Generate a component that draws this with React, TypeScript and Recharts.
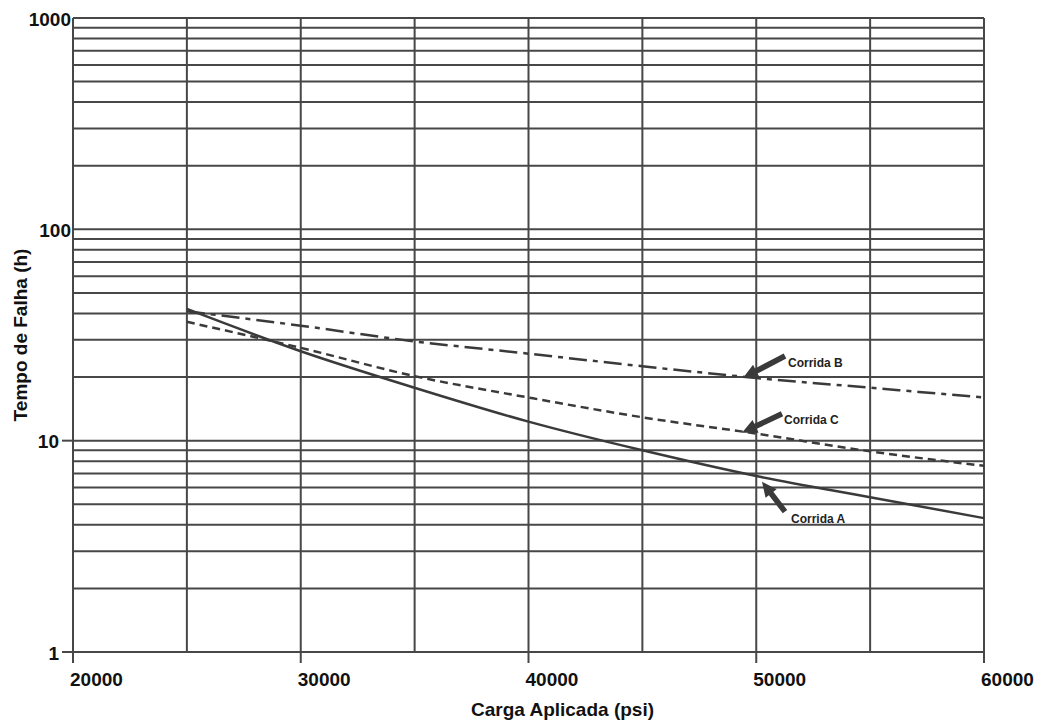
import React from "react";
import {
  CartesianGrid,
  Line,
  LineChart,
  ReferenceDot,
  XAxis,
  YAxis,
} from "recharts";

// valores (psi -> horas)
const cargas = [25000, 30000, 35000, 40000, 45000, 50000, 55000, 60000];
const corridaA = [42, 26.5, 17.8, 12.3, 9.0, 6.8, 5.4, 4.3];
const corridaB = [41, 35, 29.5, 25.8, 22.5, 19.8, 17.8, 16];
const corridaC = [36.5, 27.5, 20.2, 16.0, 12.9, 10.8, 8.9, 7.6];

const xTicks = [20000, 25000, 30000, 35000, 40000, 45000, 50000, 55000, 60000];
const xLabels = [20000, 30000, 40000, 50000, 60000];
const yTicks = [
  1, 2, 3, 4, 5, 6, 7, 8, 9, 10, 20, 30, 40, 50, 60, 70, 80, 90, 100, 200, 300,
  400, 500, 600, 700, 800, 900, 1000,
];
const yLabels = [1, 10, 100, 1000];

const notaNomes = ["Corrida B", "Corrida C", "Corrida A"];
const notaX = [49418, 49374, 50252];
const notaY = [19.8, 10.9, 6.4];

const data = cargas.map((carga, i) => ({
  carga,
  a: corridaA[i],
  b: corridaB[i],
  c: corridaC[i],
}));

const INK = "#3a3a3a";
const GRID = "#474747";
const FONT = "'Liberation Sans', Arial, sans-serif";

// deslocamento da cauda da seta e do texto, em pixels, por nota
const notaLayout: Record<string, { dx: number; dy: number; tx: number; ty: number }> = {
  "Corrida B": { dx: 42, dy: -22, tx: 45, ty: -15 },
  "Corrida C": { dx: 40, dy: -19, tx: 42, ty: -13 },
  "Corrida A": { dx: 23, dy: 30, tx: 29, ty: 37 },
};

const Seta = (props: any) => {
  const { cx, cy, nome } = props;
  const lay = notaLayout[nome];
  const px = cx + lay.dx;
  const py = cy + lay.dy;
  const len = Math.hypot(cx - px, cy - py);
  const ux = (cx - px) / len;
  const uy = (cy - py) / len;
  const nx = -uy;
  const ny = ux;
  const hl = 15;
  const hw = 7;
  const sw = 2.8;
  const bx = cx - ux * hl;
  const by = cy - uy * hl;
  const pts = [
    [px + nx * sw, py + ny * sw],
    [bx + nx * sw, by + ny * sw],
    [bx + nx * hw, by + ny * hw],
    [cx, cy],
    [bx - nx * hw, by - ny * hw],
    [bx - nx * sw, by - ny * sw],
    [px - nx * sw, py - ny * sw],
  ]
    .map((p) => p.join(","))
    .join(" ");
  return (
    <g>
      <polygon points={pts} fill={INK} />
      <text
        x={cx + lay.tx}
        y={cy + lay.ty}
        fontFamily={FONT}
        fontWeight="bold"
        fontSize={12}
        fill="#222"
        dominantBaseline="central"
      >
        {nome}
      </text>
    </g>
  );
};

const XTick = (props: any) => {
  const { x, y, payload } = props;
  if (!xLabels.includes(payload.value)) return null;
  return (
    <g>
      <line x1={x} y1={y} x2={x} y2={y + 11} stroke={GRID} strokeWidth={2} />
      <text
        x={x - 3}
        y={y + 27}
        fontFamily={FONT}
        fontWeight="bold"
        fontSize={19}
        fill="#111"
        dominantBaseline="central"
      >
        {payload.value}
      </text>
    </g>
  );
};

const YTick = (props: any) => {
  const { x, y, payload } = props;
  if (!yLabels.includes(payload.value)) return null;
  const comTraco = payload.value < 100;
  return (
    <g>
      {comTraco && (
        <line x1={x - 11} y1={y} x2={x} y2={y} stroke={GRID} strokeWidth={2} />
      )}
      <text
        x={comTraco ? x - 14 : x - 2}
        y={y + 1}
        textAnchor="end"
        fontFamily={FONT}
        fontWeight="bold"
        fontSize={19}
        fill="#111"
        dominantBaseline="central"
      >
        {payload.value}
      </text>
    </g>
  );
};

export default function App() {
  return (
    <div style={{ width: 1039, height: 724, background: "#fff", position: "relative" }}>
      <style>{"body{margin:0}"}</style>
      <LineChart
        width={1039}
        height={724}
        data={data}
        margin={{ top: 18, right: 55, left: 0, bottom: 0 }}
      >
        <CartesianGrid stroke={GRID} strokeWidth={2} />
        <XAxis
          dataKey="carga"
          type="number"
          domain={[20000, 60000]}
          ticks={xTicks}
          interval={0}
          height={72}
          tickSize={0}
          tickMargin={0}
          tickLine={false}
          axisLine={{ stroke: GRID, strokeWidth: 2 }}
          tick={<XTick />}
          label={{
            value: "Carga Aplicada (psi)",
            position: "insideBottom",
            offset: 8,
            dx: 34,
            style: { fontFamily: FONT, fontWeight: "bold", fontSize: 19, fill: "#111" },
          }}
        />
        <YAxis
          scale="log"
          type="number"
          domain={[1, 1000]}
          ticks={yTicks}
          interval={0}
          allowDataOverflow
          width={73}
          tickSize={0}
          tickMargin={0}
          tickLine={false}
          axisLine={{ stroke: GRID, strokeWidth: 2 }}
          tick={<YTick />}
          label={{
            value: "Tempo de Falha (h)",
            angle: -90,
            position: "insideLeft",
            offset: 20,
            style: {
              fontFamily: FONT,
              fontWeight: "bold",
              fontSize: 19,
              fill: "#111",
              textAnchor: "middle",
            },
          }}
        />
        <Line
          type="monotone"
          dataKey="a"
          stroke={INK}
          strokeWidth={2.5}
          dot={false}
          isAnimationActive={false}
        />
        <Line
          type="monotone"
          dataKey="b"
          stroke={INK}
          strokeWidth={2.5}
          strokeDasharray="18 6 5 6"
          dot={false}
          isAnimationActive={false}
        />
        <Line
          type="monotone"
          dataKey="c"
          stroke={INK}
          strokeWidth={2.5}
          strokeDasharray="8 5"
          dot={false}
          isAnimationActive={false}
        />
        {notaNomes.map((nome, i) => (
          <ReferenceDot
            key={nome}
            x={notaX[i]}
            y={notaY[i]}
            r={0}
            ifOverflow="visible"
            shape={(p: any) => <Seta {...p} nome={nome} />}
          />
        ))}
      </LineChart>
    </div>
  );
}
